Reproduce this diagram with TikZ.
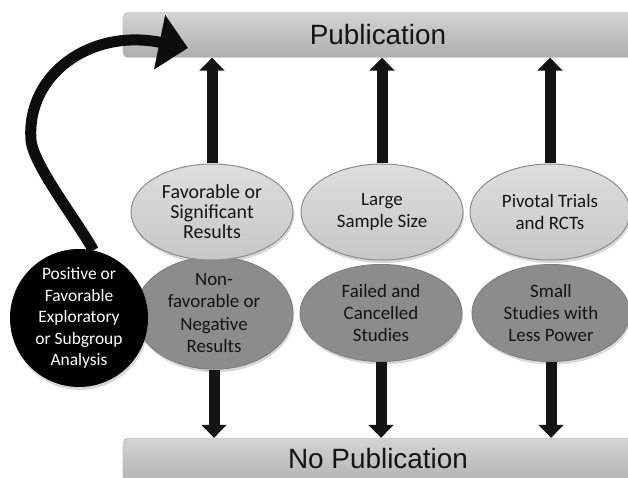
\documentclass[tikz,border=0pt]{standalone}
\usepackage{fontspec}
\setmainfont{Carlito}
\newfontfamily\barfont{Liberation Sans}
\usetikzlibrary{arrows.meta,shapes.geometric,shadows}

\begin{document}
\begin{tikzpicture}[x=1bp,y=-1bp]
\tikzstyle{every node}=[align=center,text=black!92,inner sep=0pt,font=\fontsize{19}{22.5}\selectfont];
\tikzstyle{bar}=[rectangle,rounded corners=5bp,draw=black!30,top color=black!17,bottom color=black!32,minimum width=510bp,text height=20bp,font=\barfont\fontsize{28}{30}\selectfont];
\tikzstyle{soft}=[drop shadow={shadow xshift=1bp,shadow yshift=-3bp,opacity=.3}];
\tikzstyle{hinode}=[ellipse,soft,draw=black!45,line width=1bp,top color=black!13,bottom color=black!22,minimum width=162bp,minimum height=96bp];
\tikzstyle{lonode}=[ellipse,soft,draw=black!50,line width=1bp,fill=black!45,minimum width=158bp,minimum height=97bp];
\tikzstyle{fat}=[line width=11bp,black!92,-{Triangle[length=13bp,width=25bp]}];
\clip (0,0) rectangle (628,478);
\fill[white] (0,0) rectangle (628,478);
% the two bars
\path (378,35) node[bar,minimum height=45bp,text depth=0bp] (pub) {Publication};
\path (378,464) node[bar,minimum height=52bp,text depth=12bp] (nopub) {No Publication};
% lower row
\path (214,313) node[lonode] (nonfav) {Non-\\favorable or\\Negative\\Results};
\path (381,313) node[lonode,minimum width=162bp] (failed) {Failed and\\Cancelled\\Studies};
\path (551,313) node[lonode] (small) {Small\\Studies with\\Less Power};
% upper row
\path (212,212) node[hinode,font=\fontsize{20}{20}\selectfont] (fav) {Favorable or\\Significant\\Results};
\path (382,212) node[hinode] (large) {Large\\Sample Size};
\path (550,212) node[hinode,minimum width=160bp] (pivot) {Pivotal Trials\\and RCTs};
% arrows
\draw[fat] (fav.north) -- (fav.north |- pub.south);
\draw[fat] (large.north) -- (large.north |- pub.south);
\draw[fat] (pivot.north) -- (pivot.north |- pub.south);
\draw[fat] (nonfav.south) -- (nonfav.south |- nopub.north);
\draw[fat] (failed.south) -- (failed.south |- nopub.north);
\draw[fat] (small.south) -- (small.south |- nopub.north);
% exploratory analysis and its jump to the top
\coordinate (tip) at (188,48);
\path (79,318) node[circle,soft,fill=black,minimum size=138bp,text=white,font=\fontsize{17.5}{21.5}\selectfont] (explo) {Positive or\\Favorable\\Exploratory\\or Subgroup\\Analysis};
\draw[line width=11bp,black!95,-{Triangle[length=29bp,width=54bp]}] (explo.78) .. controls (78,222) and (33,165) .. (31,140) .. controls (26,75) and (90,28) .. (tip);
\end{tikzpicture}
\end{document}
